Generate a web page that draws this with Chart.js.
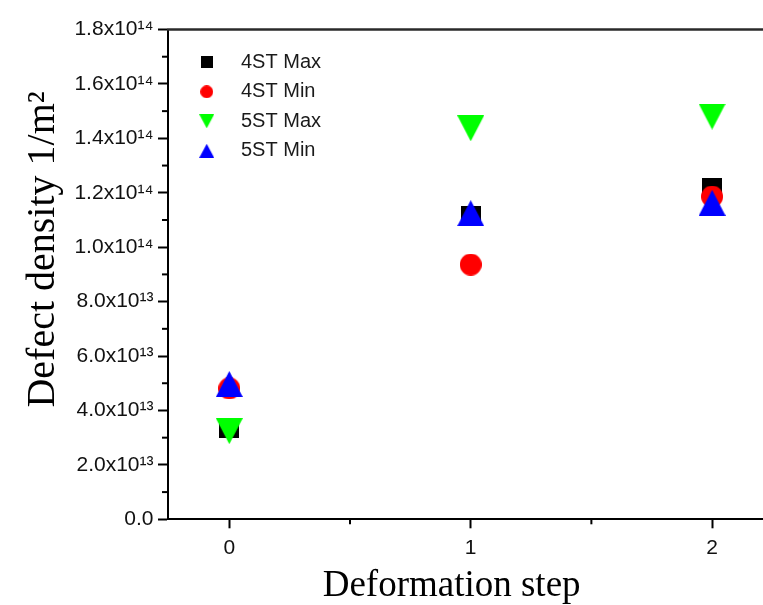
<!DOCTYPE html>
<html>
<head>
<meta charset="utf-8">
<script src="https://cdn.jsdelivr.net/npm/chart.js@4/dist/chart.umd.min.js"></script>
<style>
html, body { margin: 0; padding: 0; background: #ffffff; }
#wrap { width: 763px; height: 605px; }
</style>
</head>
<body>
<div id="wrap"><canvas id="c" width="763" height="605"></canvas></div>
<script>
// ---- data ----
const steps = [0, 1, 2];
const seriesNames = ['4ST Max', '4ST Min', '5ST Max', '5ST Min'];
const st4Max = [3.34e13, 1.115e14, 1.216e14];
const st4Min = [4.81e13, 9.36e13, 1.186e14];
const st5Max = [3.24e13, 1.437e14, 1.48e14];
const st5Min = [4.97e13, 1.125e14, 1.163e14];

const xTickValues = [0, 1, 2];
const xTickLabels = ['0', '1', '2'];
const xMinorValues = [0.5, 1.5];
const yTickValues = [0, 2e13, 4e13, 6e13, 8e13, 1e14, 1.2e14, 1.4e14, 1.6e14, 1.8e14];
const yTickLabels = ['0.0', '2.0x10\u00b9\u00b3', '4.0x10\u00b9\u00b3', '6.0x10\u00b9\u00b3', '8.0x10\u00b9\u00b3',
  '1.0x10\u00b9\u2074', '1.2x10\u00b9\u2074', '1.4x10\u00b9\u2074', '1.6x10\u00b9\u2074', '1.8x10\u00b9\u2074'];
const yMinorValues = [1e13, 3e13, 5e13, 7e13, 9e13, 1.1e14, 1.3e14, 1.5e14, 1.7e14];

const xTitle = 'Deformation step';
const yTitle = 'Defect density 1/m\u00b2';

// ---- styles ----
const SANS = '"Liberation Sans", Arial, Helvetica, sans-serif';
const SERIF = '"Liberation Serif", "Times New Roman", Times, serif';

function marker(shape, w, h, color) {
  const c = document.createElement('canvas');
  c.width = w; c.height = h;
  const g = c.getContext('2d');
  g.fillStyle = color;
  g.beginPath();
  if (shape === 'square') {
    g.rect(0, 0, w, h);
  } else if (shape === 'circle') {
    g.arc(w / 2, h / 2, w / 2, 0, Math.PI * 2);
  } else if (shape === 'down') {
    g.moveTo(0, 0); g.lineTo(w, 0); g.lineTo(w / 2, h); g.closePath();
  } else {
    g.moveTo(w / 2, 0); g.lineTo(w, h); g.lineTo(0, h); g.closePath();
  }
  g.fill();
  return c;
}

const colors = ['#000000', '#ff0000', '#00ff00', '#0000ff'];
const shapes = ['square', 'circle', 'down', 'up'];
const plotSizes = [[20, 20], [22, 22], [27, 26], [27, 26]];
const legendSizes = [[12, 12], [13, 13], [15, 14], [15, 14]];
const plotMarkers = shapes.map((s, i) => marker(s, plotSizes[i][0], plotSizes[i][1], colors[i]));
const legendMarkers = shapes.map((s, i) => marker(s, legendSizes[i][0], legendSizes[i][1], colors[i]));
const allSeries = [st4Max, st4Min, st5Max, st5Min];
const drawOrder = [4, 3, 2, 1];

const datasets = allSeries.map((arr, i) => ({
  label: seriesNames[i],
  data: steps.map((x, j) => ({ x: x, y: arr[j] })),
  pointStyle: plotMarkers[i],
  backgroundColor: colors[i],
  borderColor: colors[i],
  order: drawOrder[i],
  showLine: false
}));

const frame = {
  id: 'frame',
  afterLayout(chart) {
    const lg = chart.legend;
    const ca = chart.chartArea;
    lg.left = ca.left + 4.9;
    lg.top = ca.top + 13.3;
    lg.bottom = lg.top + lg.height;
    lg.right = lg.left + lg.width;
  },
  afterDraw(chart) {
    const ctx = chart.ctx;
    const ca = chart.chartArea;
    const xs = chart.scales.x, ys = chart.scales.y;
    ctx.save();
    ctx.strokeStyle = '#000';
    ctx.lineWidth = 2;
    yMinorValues.forEach(v => {
      const p = ys.getPixelForValue(v);
      ctx.beginPath(); ctx.moveTo(ca.left, p); ctx.lineTo(ca.left - 6, p); ctx.stroke();
    });
    xMinorValues.forEach(v => {
      const p = xs.getPixelForValue(v);
      ctx.beginPath(); ctx.moveTo(p, ca.bottom); ctx.lineTo(p, ca.bottom + 5); ctx.stroke();
    });
    ctx.strokeStyle = '#2a2a2a';
    ctx.lineWidth = 2.4;
    ctx.beginPath(); ctx.moveTo(ca.left - 1, ca.top); ctx.lineTo(ca.right, ca.top); ctx.stroke();
    ctx.restore();
  }
};

new Chart(document.getElementById('c'), {
  type: 'scatter',
  data: { datasets: datasets },
  plugins: [frame],
  options: {
    responsive: false,
    animation: false,
    events: [],
    devicePixelRatio: 1,
    layout: { autoPadding: false, padding: { top: 29.5, left: 0, right: 0, bottom: 0 } },
    plugins: {
      tooltip: { enabled: false },
      legend: {
        position: 'chartArea',
        align: 'start',
        labels: {
          usePointStyle: true,
          pointStyleWidth: 48.6,
          padding: 9.5,
          color: '#1a1a1a',
          font: { family: SANS, size: 20 },
          generateLabels: (chart) => chart.data.datasets.map((ds, i) => ({
            text: ds.label,
            pointStyle: legendMarkers[i],
            fillStyle: ds.backgroundColor,
            strokeStyle: ds.borderColor,
            lineWidth: 0,
            hidden: false,
            datasetIndex: i,
            fontColor: '#1a1a1a'
          }))
        }
      }
    },
    scales: {
      x: {
        type: 'linear',
        min: -0.254,
        max: 2.211,
        afterBuildTicks: (s) => { s.ticks = xTickValues.map(v => ({ value: v })); },
        afterFit: (s) => { s.height = 605 - 519.3; s.paddingLeft = 0; s.paddingRight = 0; },
        ticks: {
          autoSkip: false,
          maxRotation: 0,
          padding: 7.5,
          color: '#111',
          font: { family: SANS, size: 21 },
          callback: (v) => { const i = xTickValues.indexOf(v); return i >= 0 ? xTickLabels[i] : ''; }
        },
        grid: { drawOnChartArea: false, drawTicks: true, tickLength: 9, tickWidth: 2, tickColor: '#000' },
        border: { display: true, color: '#000', width: 2 },
        title: {
          display: true,
          text: xTitle + '   ',
          color: '#000',
          font: { family: SERIF, size: 37, lineHeight: 1 },
          padding: { top: 0, bottom: 0 }
        }
      },
      y: {
        type: 'linear',
        min: 0,
        max: 1.8e14,
        afterBuildTicks: (s) => { s.ticks = yTickValues.map(v => ({ value: v })); },
        afterFit: (s) => { s.width = 168; s.paddingTop = 0; s.paddingBottom = 0; },
        ticks: {
          autoSkip: false,
          padding: 4.5,
          color: '#111',
          font: { family: SANS, size: 21 },
          callback: (v) => { const i = yTickValues.findIndex(t => Math.abs(t - v) < 1e9); return i >= 0 ? yTickLabels[i] : ''; }
        },
        grid: { drawOnChartArea: false, drawTicks: true, tickLength: 10, tickWidth: 2, tickColor: '#000' },
        border: { display: true, color: '#000', width: 2 },
        title: {
          display: true,
          text: '\u2003 ' + yTitle,
          color: '#000',
          font: { family: SERIF, size: 40, lineHeight: 1 },
          padding: { top: 23, bottom: 0 }
        }
      }
    }
  }
});
</script>
</body>
</html>
